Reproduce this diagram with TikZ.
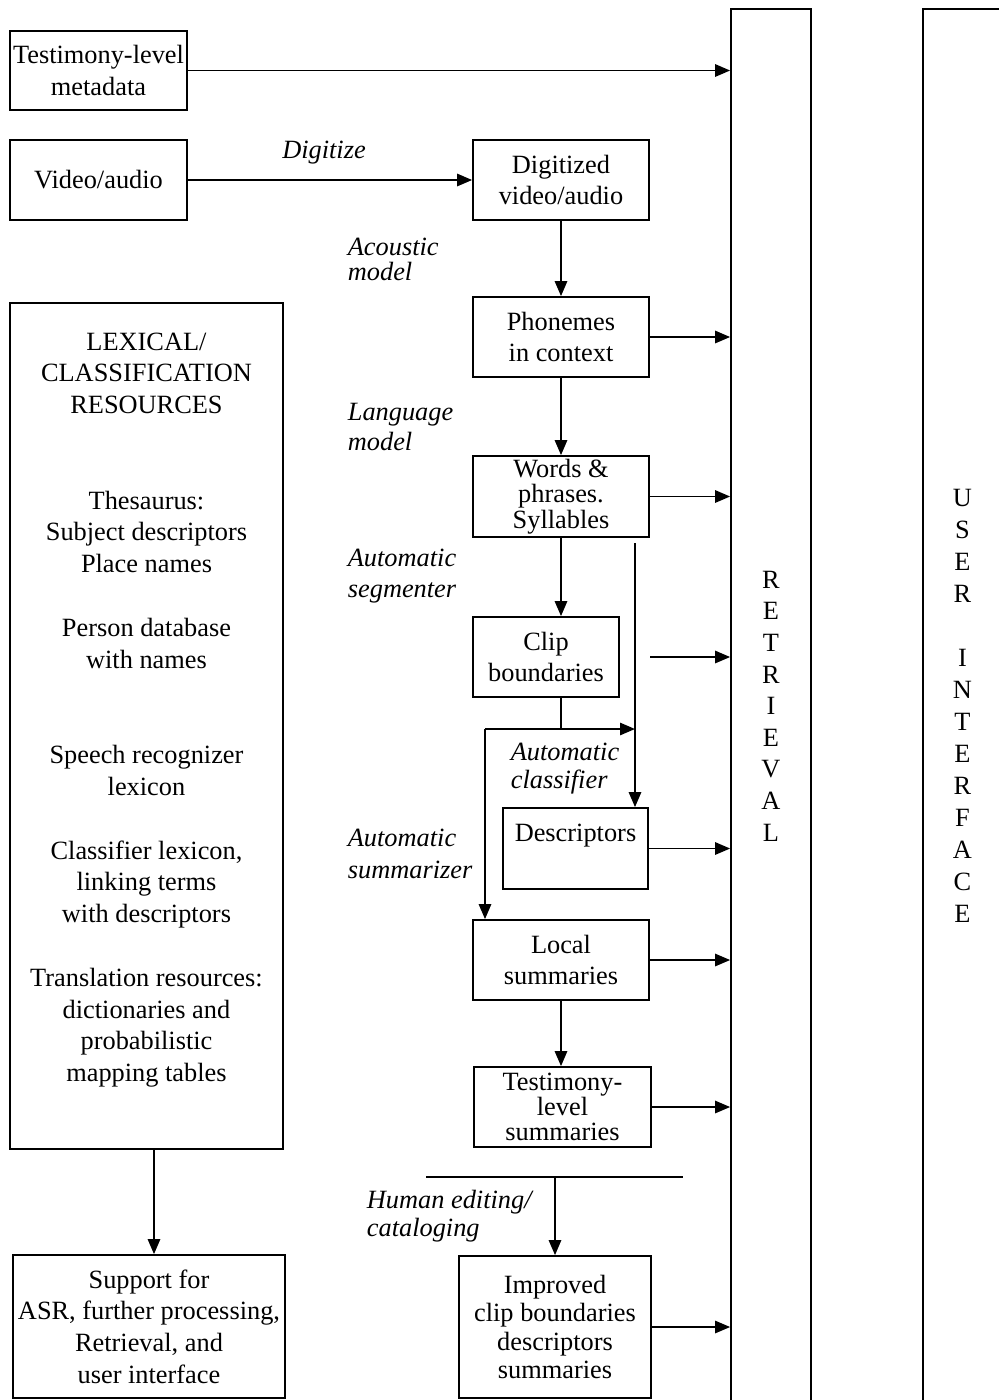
\documentclass[tikz,border=0pt]{standalone}
\usepackage{fontspec}
\setmainfont{Liberation Serif}
\usetikzlibrary{arrows.meta}
\tikzstyle{block} = [draw, rectangle, align=center, inner sep=0pt]
\tikzstyle{plain} = [align=center, inner sep=0pt]
\tikzstyle{note} = [align=left, anchor=west, inner sep=0pt, font=\fontsize{15}{18}\selectfont\itshape]
\tikzstyle{arrow} = [-{Triangle[length=8.5pt,width=7pt]}]

\begin{document}
\begin{tikzpicture}[x=0.02cm, y=-0.02cm, line width=1pt, font=\fontsize{15}{18}\selectfont]
\useasboundingbox (0,0) rectangle (999,1400);

\node[block, minimum width=3.54cm, minimum height=1.58cm] (meta) at (98.5,70.5) {Testimony-level\\metadata};
\node[block, minimum width=3.54cm, minimum height=1.6cm] (video) at (98.5,180) {Video/audio};
\node[block, minimum width=3.52cm, minimum height=1.6cm] (digit) at (561,180) {Digitized\\video/audio};
\node[block, minimum width=3.52cm, minimum height=1.6cm] (phon) at (561,337) {Phonemes\\in context};
\node[block, minimum width=3.52cm, minimum height=1.62cm, font=\fontsize{15}{14.4}\selectfont] (words) at (561,496.5) {Words \&\\phrases.\\Syllables};
\node[block, minimum width=2.92cm, minimum height=1.6cm] (clip) at (546,657) {Clip\\boundaries};
\node[block, minimum width=2.9cm, minimum height=1.62cm] (descr) at (575.5,848.5) {Descriptors\\~};
\node[block, minimum width=3.52cm, minimum height=1.6cm] (local) at (561,960) {Local\\summaries};
\node[block, minimum width=3.54cm, minimum height=1.6cm, font=\fontsize{15}{14.2}\selectfont] (tsum) at (562.5,1107) {Testimony-\\level\\summaries};
\node[block, minimum width=3.84cm, minimum height=2.84cm, font=\fontsize{15}{16}\selectfont] (impr) at (555,1327) {Improved\\clip boundaries\\descriptors\\summaries};

\node[block, minimum width=5.46cm, minimum height=16.92cm] (lex) at (146.5,726) {};
\node[plain, font=\fontsize{15}{18.1}\selectfont] (lextext) at (146.5,710) {LEXICAL/\\CLASSIFICATION\\RESOURCES\\[36.2pt]Thesaurus:\\Subject descriptors\\Place names\\[18.1pt]Person database\\with names\\[36.2pt]Speech recognizer\\lexicon\\[18.1pt]Classifier lexicon,\\linking terms\\with descriptors\\[18.1pt]Translation resources:\\dictionaries and\\probabilistic\\mapping tables};
\node[block, minimum width=5.44cm, minimum height=2.86cm] (support) at (149,1326.5) {Support for\\ASR, further processing,\\Retrieval, and\\user interface};

\node[block, minimum width=1.6cm, minimum height=27.88cm] (retr) at (771,706) {R\\E\\T\\R\\I\\E\\V\\A\\L};
\node[block, minimum width=1.58cm, minimum height=27.88cm, font=\fontsize{15}{18.2}\selectfont] (ui) at (962.5,706) {U\\S\\E\\R\\~\\I\\N\\T\\E\\R\\F\\A\\C\\E};

\node[plain, font=\fontsize{15}{18}\selectfont\itshape] (digitize) at (324,153) {Digitize};
\node[note, font=\fontsize{15}{14.2}\selectfont\itshape] (acoustic) at (347,259.5) {Acoustic\\model};
\node[note, font=\fontsize{15}{17}\selectfont\itshape] (language) at (347,427) {Language\\model};
\node[note] (segmenter) at (347,576) {Automatic\\segmenter};
\node[note, font=\fontsize{15}{16}\selectfont\itshape] (classifier) at (510,769) {Automatic\\classifier};
\node[note] (summarizer) at (347,854) {Automatic\\summarizer};
\node[note, font=\fontsize{15}{16}\selectfont\itshape] (human) at (366,1216) {Human editing/\\cataloging};

\coordinate (clipout) at (650,657);
\coordinate (wordtap) at (635,543);
\coordinate (split) at (561,729);
\coordinate (corner) at (485,729);
\coordinate (hl) at (426,1177);
\coordinate (hr) at (683,1177);

\draw [arrow] (meta.east) -- (meta.east -| retr.west);
\draw [arrow] (video) -- (digit);
\draw [arrow] (digit) -- (phon);
\draw [arrow] (phon.east) -- (phon.east -| retr.west);
\draw [arrow] (phon) -- (words);
\draw [arrow] (words.east) -- (words.east -| retr.west);
\draw [arrow] (words.south) -- (words.south |- clip.north);
\draw [arrow] (clipout) -- (clipout -| retr.west);
\draw [arrow] (wordtap) -- (wordtap |- descr.north);
\draw (clip.south -| split) -- (split);
\draw [arrow] (corner) -- (split -| wordtap);
\draw [arrow] (corner) -- (corner |- local.north);
\draw [arrow] (descr.east) -- (descr.east -| retr.west);
\draw [arrow] (local.east) -- (local.east -| retr.west);
\draw [arrow] (local) -- (local |- tsum.north);
\draw [arrow] (tsum.east) -- (tsum.east -| retr.west);
\draw (hl) -- (hr);
\draw [arrow] (impr.north |- hl) -- (impr.north);
\draw [arrow] (impr.east) -- (impr.east -| retr.west);
\draw [arrow] ([xshift=0.15cm]lex.south) -- ([xshift=0.15cm]lex.south |- support.north);
\end{tikzpicture}
\end{document}
